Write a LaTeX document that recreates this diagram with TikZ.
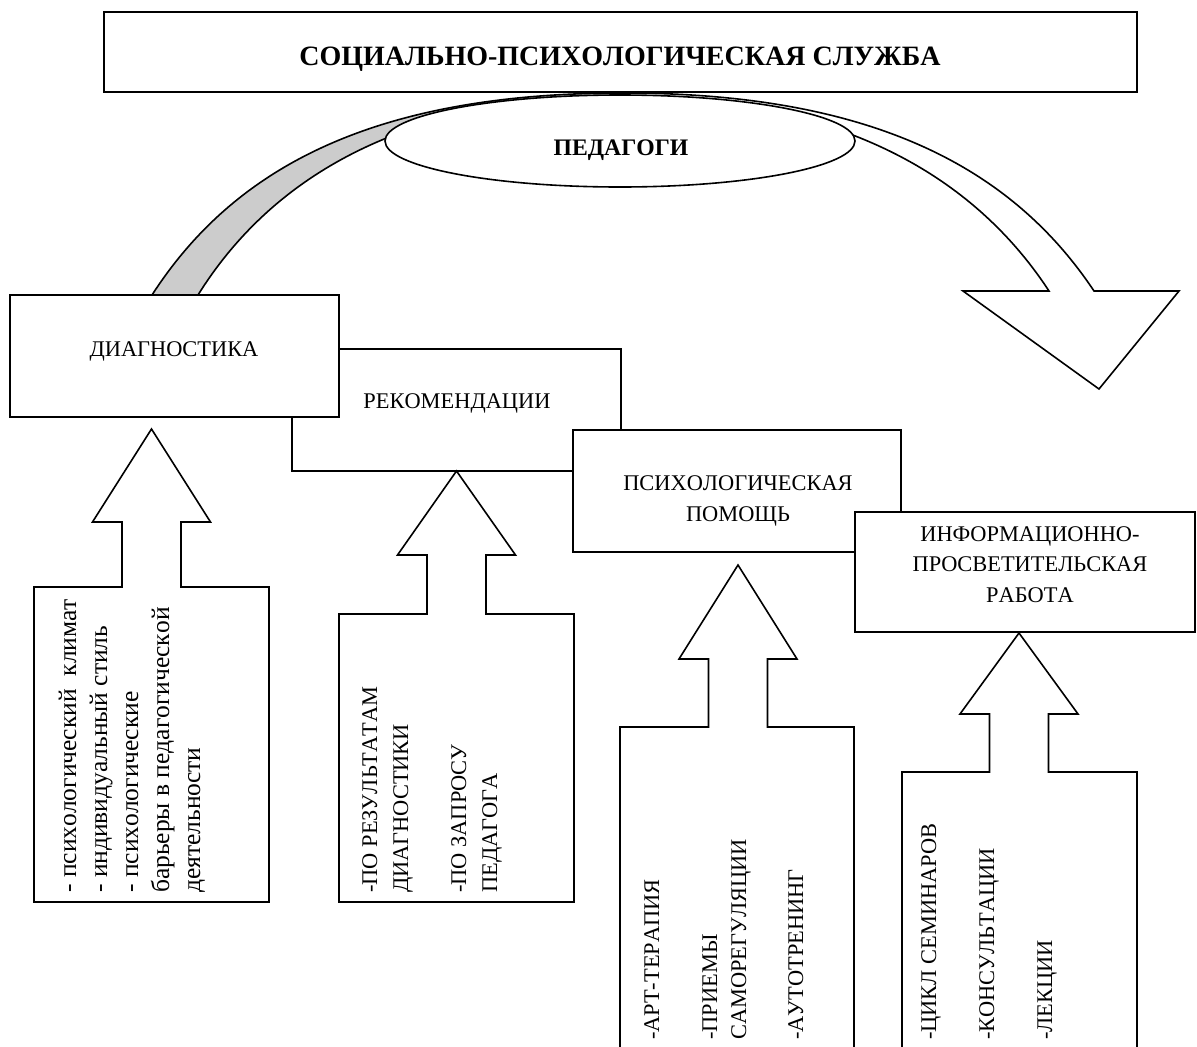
\documentclass[tikz,border=0pt]{standalone}
\usepackage{fontspec}
\setmainfont{Liberation Serif}[Kerning=Off]
\usetikzlibrary{shapes.geometric}
\begin{document}
\begin{tikzpicture}[x=1pt,y=-1pt,
  box/.style={draw,fill=white,line width=1.6pt,inner sep=0},
  blk/.style={draw,fill=white,line width=1.6pt,line join=miter},
  txt/.style={inner sep=0,anchor=base,font=\fontsize{22.4}{26}\selectfont},
  vtxt/.style={inner sep=0,rotate=90,anchor=base west,font=\fontsize{22.4}{26}\selectfont}]
\useasboundingbox (0,0) rectangle (1197,1047);
\clip (0,0) rectangle (1197,1047);

% curved arrow
\fill[black!20] (152,295) .. controls (234,168) and (373,93) .. (623,93) -- (623,97)
  .. controls (403,97) and (271,178) .. (198,295) -- cycle;
\draw[line width=1.6pt,line join=miter] (152,295) .. controls (234,168) and (373,93) .. (623,93)
  .. controls (873,93) and (1012,168) .. (1094,291) -- (1179,291) -- (1099,389) -- (963,291)
  -- (1049,291) .. controls (975,178) and (843,97) .. (623,97)
  .. controls (403,97) and (271,178) .. (198,295) -- cycle;

\node[box,minimum width=1033,minimum height=80] (sps) at (620.5,52) {};
\node[txt,font=\bfseries\fontsize{28}{32}\selectfont] (spstxt) at (620,65) {СОЦИАЛЬНО-ПСИХОЛОГИЧЕСКАЯ СЛУЖБА};

\node[box,ellipse,minimum width=470,minimum height=92] (ped) at (620,141) {};
\node[txt,font=\bfseries\fontsize{23.7}{27}\selectfont] (pedtxt) at (621,155) {ПЕДАГОГИ};

\node[box,minimum width=329,minimum height=122] (rek) at (456.5,410) {};
\node[box,minimum width=329,minimum height=122] (diag) at (174.5,356) {};
\node[box,minimum width=328,minimum height=122] (psy) at (737,491) {};
\node[box,minimum width=340,minimum height=120] (inf) at (1025,572) {};

\node[txt] (diagtxt) at (174,356) {ДИАГНОСТИКА};
\node[txt] (rektxt) at (457,408) {РЕКОМЕНДАЦИИ};
\node[txt] (psytxt1) at (738,490) {ПСИХОЛОГИЧЕСКАЯ};
\node[txt] (psytxt2) at (738,521) {ПОМОЩЬ};
\node[txt] (inftxt1) at (1030,541) {ИНФОРМАЦИОННО-};
\node[txt] (inftxt2) at (1030,571) {ПРОСВЕТИТЕЛЬСКАЯ};
\node[txt] (inftxt3) at (1030,602) {РАБОТА};

% block arrows with their boxes
\foreach \cx/\ty/\hy/\by/\bl/\br/\bb in {151.5/429/522/587/34/269/902,
    456.5/471/555/614/339/574/902, 738/565/659/727/620/854/1070,
    1019/633/714/772/902/1137/1070}
  \draw[blk] (\cx-29.5,\by) -- (\cx-29.5,\hy) -- (\cx-59,\hy) -- (\cx,\ty) -- (\cx+59,\hy)
    -- (\cx+29.5,\hy) -- (\cx+29.5,\by) -- (\br,\by) -- (\br,\bb) -- (\bl,\bb) -- (\bl,\by) -- cycle;

\foreach \x/\t [count=\i] in {76/{- психологический\ \ климат}, 107/{- индивидуальный стиль},
    138/{- психологические}, 169/{барьеры в педагогической}, 200/{деятельности}}
  \node[vtxt,font=\fontsize{25.5}{29}\selectfont] (diag\i) at (\x,893) {\t};
\foreach \x/\t [count=\i] in {377/{-ПО РЕЗУЛЬТАТАМ}, 408/{ДИАГНОСТИКИ}, 466/{-ПО ЗАПРОСУ}, 497/{ПЕДАГОГА}}
  \node[vtxt] (rek\i) at (\x,893) {\t};
\foreach \x/\t [count=\i] in {659/{-АРТ-ТЕРАПИЯ}, 717/{-ПРИЕМЫ}, 746/{САМОРЕГУЛЯЦИИ}, 803/{-АУТОТРЕНИНГ}}
  \node[vtxt] (psy\i) at (\x,1040) {\t};
\foreach \x/\t [count=\i] in {936/{-ЦИКЛ СЕМИНАРОВ}, 994/{-КОНСУЛЬТАЦИИ}, 1052/{-ЛЕКЦИИ}}
  \node[vtxt] (inf\i) at (\x,1040) {\t};
\end{tikzpicture}
\end{document}
